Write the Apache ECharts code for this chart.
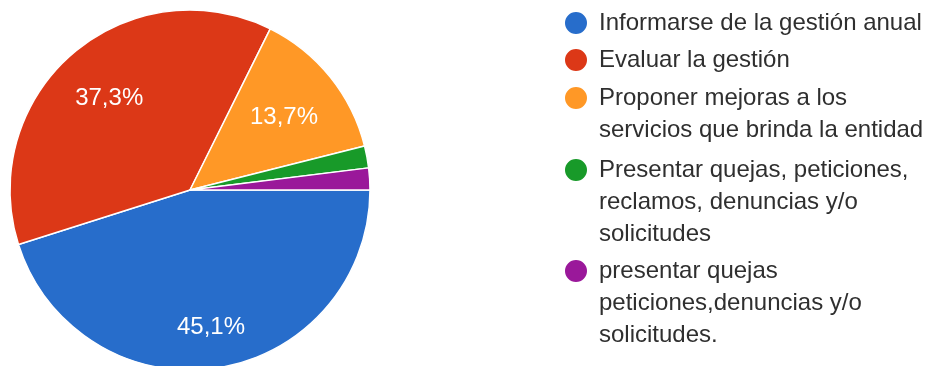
<!DOCTYPE html>
<html>
<head>
<meta charset="utf-8">
<script src="https://cdn.jsdelivr.net/npm/echarts@6/dist/echarts.min.js"></script>
<style>
  html, body { margin: 0; padding: 0; background: #fff; }
  #chart { width: 925px; height: 366px; }
</style>
</head>
<body>
<div id="chart"></div>
<script>
// Response categories and their counts
const categories = [
  'Informarse de la gestión anual',
  'Evaluar la gestión',
  'Proponer mejoras a los servicios que brinda la entidad',
  'Presentar quejas, peticiones, reclamos, denuncias y/o solicitudes',
  'presentar quejas peticiones,denuncias y/o solicitudes.'
];
const counts = [23, 19, 7, 1, 1];
// Legend text as wrapped lines
const legendLabels = [
  'Informarse de la gestión anual',
  'Evaluar la gestión',
  'Proponer mejoras a los\nservicios que brinda la entidad',
  'Presentar quejas, peticiones,\nreclamos, denuncias y/o\nsolicitudes',
  'presentar quejas\npeticiones,denuncias y/o\nsolicitudes.'
];

// Styling
const colors = ['#276dcb', '#dc3817', '#ff9826', '#189a29', '#9a189a'];
const CX = 190, CY = 190, R = 180;
const labelRadiusFrac = [0.76, 0.69, 0.67, 0, 0];
const LABEL_DY = 2.5;
const showLabel = [true, true, true, false, false];
const LINE_H = 32;
const legendIconCenters = [23, 60, 98, 170, 271];
const FONT = '"Liberation Sans", Arial, Helvetica, sans-serif';

const total = counts.reduce((a, b) => a + b, 0);
const pctText = v => (v / total * 100).toFixed(1).replace('.', ',') + '%';

// mid-angle of each slice (clockwise from 3 o'clock)
const midAngles = [];
let cum = 0;
counts.forEach(v => {
  midAngles.push((cum + v / 2) / total * Math.PI * 2);
  cum += v;
});

// One legend per entry so the marker sits beside the first text line:
// blank lines above the text keep the first line on the marker's centre.
const legends = categories.map((name, i) => {
  const lines = legendLabels[i].split('\n');
  const n = lines.length;
  const text = '\n'.repeat(n - 1) + legendLabels[i];
  return {
    orient: 'vertical',
    left: 563,
    top: legendIconCenters[i] - (2 * n - 1) * LINE_H / 2,
    padding: 0,
    itemWidth: 24,
    itemHeight: 24,
    icon: 'circle',
    selectedMode: false,
    data: [name],
    formatter: () => text,
    textStyle: {
      fontFamily: FONT,
      fontSize: 24,
      lineHeight: LINE_H,
      color: '#2f2f2f',
      padding: [0, 0, 0, 6]
    }
  };
});

const chart = echarts.init(document.getElementById('chart'), null, { renderer: 'canvas' });
chart.setOption({
  animation: false,
  color: colors,
  legend: legends,
  series: [{
    type: 'pie',
    center: [CX, CY],
    radius: R,
    startAngle: 0,
    clockwise: true,
    avoidLabelOverlap: false,
    emphasis: { disabled: true },
    itemStyle: { borderColor: '#ffffff', borderWidth: 1.5 },
    label: {
      position: 'inside',
      color: '#ffffff',
      fontFamily: FONT,
      fontSize: 24,
      formatter: p => pctText(p.value)
    },
    labelLine: { show: false },
    labelLayout: params => {
      const i = params.dataIndex;
      const r = labelRadiusFrac[i] * R;
      return {
        x: CX + r * Math.cos(midAngles[i]),
        y: CY + r * Math.sin(midAngles[i]) + LABEL_DY,
        align: 'center',
        verticalAlign: 'middle'
      };
    },
    data: categories.map((name, i) => ({
      name,
      value: counts[i],
      label: { show: showLabel[i] }
    }))
  }]
});
</script>
</body>
</html>
